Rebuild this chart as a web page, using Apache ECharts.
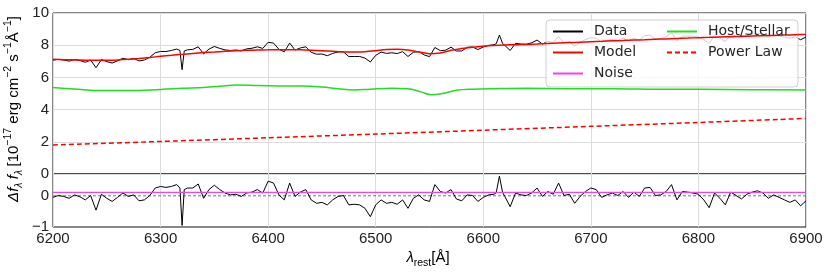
<!DOCTYPE html>
<html>
<head>
<meta charset="utf-8">
<script src="https://cdn.jsdelivr.net/npm/echarts@6/dist/echarts.min.js"></script>
<style>html,body{margin:0;padding:0;background:#fff;}#c{width:830px;height:277px;}</style>
</head>
<body>
<div id="c"></div>
<script>
// Wavelength grid for data / residual (Å)
const wavelengths = [6200,6205,6210,6215,6220,6225,6230,6235,6240,6245,6250,6255,6260,6265,6270,6275,6280,6285,6290,6295,
6300,6305,6310,6315,6318,6320,6322,6325,6330,6335,6340,6345,6350,6355,6360,6365,6370,6375,6380,6385,6390,6395,
6400,6405,6410,6415,6420,6425,6430,6435,6440,6445,6450,6455,6460,6465,6470,6475,6480,6485,6490,6495,
6500,6505,6510,6515,6520,6525,6530,6535,6540,6545,6550,6555,6560,6565,6570,6575,6580,6585,6590,6595,
6600,6605,6610,6612,6615,6618,6620,6625,6630,6635,6640,6645,6650,6655,6660,6665,6670,6675,6680,6685,6690,6695,
6700,6705,6710,6715,6720,6725,6730,6735,6740,6745,6750,6755,6760,6765,6770,6775,6780,6785,6790,6795,
6800,6805,6810,6815,6820,6825,6830,6835,6840,6845,6850,6855,6860,6865,6870,6875,6880,6885,6890,6895,6900];

// Observed flux (10^-17 erg cm^-2 s^-1 Å^-1)
const dataFlux = [7.07,7.12,7.08,7.01,7.11,7.05,6.94,7.08,6.60,7.11,6.98,6.89,7.03,7.19,7.10,7.18,7.02,7.08,7.25,7.53,
7.61,7.61,7.67,7.76,7.67,6.48,7.64,7.71,7.74,7.90,7.46,7.76,7.92,7.80,7.71,7.67,7.70,7.65,7.77,7.81,7.90,7.80,
8.18,8.13,7.75,7.59,8.13,7.70,7.83,7.90,7.56,7.44,7.45,7.35,7.49,7.58,7.59,7.29,7.30,7.30,7.20,6.96,
7.37,7.57,7.49,7.53,7.48,7.60,7.30,7.56,7.61,7.40,7.29,7.86,7.66,7.69,7.88,7.64,7.64,7.87,7.89,7.73,
7.89,7.99,8.03,8.09,8.63,8.10,7.99,7.67,8.12,8.07,8.06,8.15,8.32,8.07,8.24,8.17,8.54,8.16,8.21,7.94,8.17,8.35,
8.47,8.43,8.19,8.29,8.36,8.29,8.43,8.26,8.44,8.31,8.59,8.63,8.38,8.41,8.53,8.77,8.29,8.57,8.56,8.55,
8.52,8.35,8.11,8.59,8.43,8.23,8.65,8.55,8.45,8.61,8.69,8.74,8.68,8.52,8.64,8.57,8.50,8.43,8.52,8.34,8.51];

// Residual (data - model)
const residual = [-0.05,0.01,-0.02,-0.08,0.03,-0.03,-0.13,0.01,-0.46,0.05,-0.08,-0.18,-0.05,0.09,-0.02,0.03,-0.16,-0.13,0.01,0.25,
0.30,0.27,0.30,0.36,0.25,-0.95,0.20,0.25,0.25,0.38,-0.08,0.20,0.34,0.20,0.09,0.03,0.05,-0.02,0.09,0.12,0.20,0.09,
0.47,0.41,0.03,-0.13,0.41,-0.02,0.12,0.20,-0.13,-0.24,-0.21,-0.29,-0.13,-0.02,0.01,-0.29,-0.27,-0.29,-0.40,-0.67,
-0.29,-0.13,-0.24,-0.21,-0.27,-0.13,-0.40,-0.08,0.03,-0.13,-0.18,0.36,0.14,0.09,0.20,-0.10,-0.16,0.03,0.01,-0.18,
-0.05,0.03,0.05,0.10,0.63,0.10,-0.02,-0.35,0.09,0.03,0.01,0.09,0.25,-0.02,0.14,0.05,0.41,0.01,0.05,-0.24,-0.02,0.14,
0.25,0.20,-0.05,0.03,0.09,0.01,0.14,-0.05,0.12,-0.02,0.25,0.27,0.01,0.03,0.14,0.36,-0.13,0.14,0.12,0.09,
0.05,-0.13,-0.38,0.09,-0.08,-0.29,0.12,0.01,-0.10,0.05,0.12,0.16,0.09,-0.08,0.03,-0.05,-0.13,-0.21,-0.13,-0.32,-0.16];

// Model (total fit)
const modelWl = [6200,6210,6220,6230,6240,6250,6260,6270,6280,6290,6300,6310,6320,6330,6340,6350,6360,6370,6380,6390,
6400,6410,6420,6430,6440,6450,6460,6470,6480,6490,6500,6510,6520,6530,6540,6550,6560,6570,6580,6590,
6600,6610,6620,6630,6640,6650,6660,6670,6680,6690,6700,6710,6720,6730,6740,6750,6760,6770,6780,6790,
6800,6810,6820,6830,6840,6850,6860,6870,6880,6890,6900];
const modelFlux = [7.12,7.10,7.08,7.07,7.06,7.06,7.08,7.12,7.18,7.24,7.31,7.37,7.43,7.49,7.54,7.58,7.62,7.65,7.68,7.70,
7.71,7.72,7.72,7.71,7.69,7.66,7.62,7.58,7.57,7.60,7.66,7.73,7.75,7.70,7.58,7.47,7.52,7.68,7.80,7.88,
7.94,7.98,8.01,8.03,8.05,8.07,8.10,8.13,8.16,8.19,8.22,8.24,8.27,8.29,8.32,8.34,8.37,8.39,8.42,8.44,
8.47,8.49,8.51,8.53,8.55,8.57,8.59,8.61,8.63,8.65,8.67];

// Host / stellar component
const hostWl = [6200,6220,6245,6270,6300,6320,6340,6355,6370,6390,6410,6430,6450,6465,6480,6495,6515,6530,6542,6552,6562,6575,6590,6610,6640,6680,6720,6760,6800,6850,6900];
const hostFlux = [5.38,5.28,5.18,5.18,5.25,5.32,5.38,5.45,5.53,5.50,5.47,5.46,5.40,5.30,5.22,5.27,5.33,5.30,5.10,4.92,5.00,5.20,5.27,5.30,5.32,5.30,5.30,5.27,5.26,5.24,5.21];

// Power law component
const plWl = [6200,6300,6400,6500,6600,6700,6800,6900];
const plFlux = [1.80,2.02,2.25,2.48,2.72,2.96,3.20,3.45];

// Noise level and zero line in residual panel
const noiseWl = [6200,6900];
const noiseVal = [0.11,0.11];
const zeroVal = [0,0];

const xTicks = [6200,6300,6400,6500,6600,6700,6800,6900];
const yTopTicks = [0,2,4,6,8,10];

const pairs = (xs, ys) => xs.map((x, i) => [x, ys[i]]);

const chart = echarts.init(document.getElementById('c'), null, {renderer: 'canvas'});
const tickFont = {fontFamily: 'Liberation Sans', fontSize: 15, color: '#222'};
const gridLine = {show: true, lineStyle: {color: '#dcdcdc', width: 1}};
const base = 15;
const rich = {
  n: {fontFamily: 'Liberation Sans', fontSize: base, lineHeight: 22, color: '#222'},
  i: {fontFamily: 'Liberation Sans', fontStyle: 'italic', fontSize: base, lineHeight: 22, color: '#222'},
  sub: {fontFamily: 'Liberation Sans', fontStyle: 'italic', fontSize: 10.5, lineHeight: 13, verticalAlign: 'bottom', color: '#222'},
  subn: {fontFamily: 'Liberation Sans', fontSize: 10.5, lineHeight: 13, verticalAlign: 'bottom', color: '#222'},
  sup: {fontFamily: 'Liberation Sans', fontSize: 10.5, lineHeight: 12, verticalAlign: 'top', color: '#222'}
};
const legendCommon = {orient: 'vertical', top: 24.5, padding: 0, itemWidth: 30, itemHeight: 14, itemGap: 7,
  selectedMode: false, z: 5, itemStyle: {opacity: 0, borderWidth: 0},
  textStyle: {fontFamily: 'DejaVu Sans', fontSize: 14, color: '#262626', padding: [0, 0, 0, 6]}};

chart.setOption({
  animation: false,
  backgroundColor: '#fff',
  grid: [
    {left: 53, top: 13, width: 753, height: 161, show: true, borderColor: '#111', borderWidth: 1, backgroundColor: 'transparent'},
    {left: 53, top: 174, width: 753, height: 53, show: true, borderColor: '#111', borderWidth: 1, backgroundColor: 'transparent'}
  ],
  xAxis: [
    {type: 'value', gridIndex: 0, min: xTicks[0], max: xTicks[xTicks.length-1], interval: 100,
     axisLabel: {show: false}, axisTick: {show: false}, axisLine: {show: false}, splitLine: gridLine},
    {type: 'value', gridIndex: 1, min: xTicks[0], max: xTicks[xTicks.length-1], interval: 100,
     axisLabel: Object.assign({margin: 4, formatter: v => String(v)}, tickFont),
     axisTick: {show: false}, axisLine: {show: false}, splitLine: gridLine}
  ],
  yAxis: [
    {type: 'value', gridIndex: 0, min: yTopTicks[0], max: yTopTicks[yTopTicks.length-1], interval: 2,
     axisLabel: Object.assign({margin: 4, formatter: v => String(v)}, tickFont),
     axisTick: {show: false}, axisLine: {show: false}, splitLine: gridLine},
    {type: 'value', gridIndex: 1, min: -1, max: 0.7, interval: 1,
     axisLabel: Object.assign({margin: 4, showMaxLabel: false,
       formatter: v => Number.isInteger(v) ? String(v).replace('-', '\u2212') : ''}, tickFont),
     axisTick: {show: false}, axisLine: {show: false}, splitLine: {show: false}}
  ],
  legend: [
    Object.assign({data: ['Data', 'Model', 'Noise'], left: 552}, legendCommon),
    Object.assign({data: ['Host/Stellar', 'Power Law'], left: 666}, legendCommon)
  ],
  graphic: [
    {type: 'rect', z: 3, shape: {x: 546, y: 20, width: 252, height: 67, r: 4},
     style: {fill: 'rgba(255,255,255,0.8)', stroke: '#cfcfcf', lineWidth: 1}},
    {type: 'text', z: 5, x: 14, y: 109, rotation: Math.PI / 2,
     style: {text: '{i|\u0394f}{sub|\u03bb} {i|f}{sub|\u03bb} {n|[10}{sup|\u221217}{n| erg cm}{sup|\u22122}{n| s}{sup|\u22121}{n|\u00c5}{sup|\u22121}{n|]}',
       rich: rich, align: 'center', verticalAlign: 'middle'}},
    {type: 'text', z: 5, x: 428, y: 258,
     style: {text: '{i|\u03bb}{subn|rest}{n|[\u00c5]}', rich: rich, align: 'center', verticalAlign: 'middle'}}
  ],
  series: [
    {name: 'Data', type: 'line', xAxisIndex: 0, yAxisIndex: 0, data: pairs(wavelengths, dataFlux),
     symbol: 'none', lineStyle: {color: '#000', width: 1}, itemStyle: {color: '#000'}, z: 2},
    {name: 'Model', type: 'line', xAxisIndex: 0, yAxisIndex: 0, data: pairs(modelWl, modelFlux), smooth: 0.3,
     symbol: 'none', lineStyle: {color: '#ff0000', width: 1.5}, itemStyle: {color: '#ff0000'}, z: 3},
    {name: 'Host/Stellar', type: 'line', xAxisIndex: 0, yAxisIndex: 0, data: pairs(hostWl, hostFlux), smooth: 0.4,
     symbol: 'none', lineStyle: {color: '#22dd22', width: 1.5}, itemStyle: {color: '#22dd22'}, z: 2},
    {name: 'Power Law', type: 'line', xAxisIndex: 0, yAxisIndex: 0, data: pairs(plWl, plFlux), smooth: 0.3,
     symbol: 'none', lineStyle: {color: '#ff0000', width: 1.5, type: [5, 3]}, itemStyle: {color: '#ff0000'}, z: 2},
    {name: 'Residual', type: 'line', xAxisIndex: 1, yAxisIndex: 1, data: pairs(wavelengths, residual),
     symbol: 'none', lineStyle: {color: '#000', width: 1}, z: 2},
    {name: 'Noise', type: 'line', xAxisIndex: 1, yAxisIndex: 1, data: pairs(noiseWl, noiseVal),
     symbol: 'none', lineStyle: {color: '#ee44ee', width: 1.2}, itemStyle: {color: '#ee44ee'}, z: 3},
    {name: 'Zero', type: 'line', xAxisIndex: 1, yAxisIndex: 1, data: pairs(noiseWl, zeroVal),
     symbol: 'none', lineStyle: {color: '#555', width: 0.8, type: [3, 2]}, z: 1}
  ]
});
</script>
</body>
</html>
